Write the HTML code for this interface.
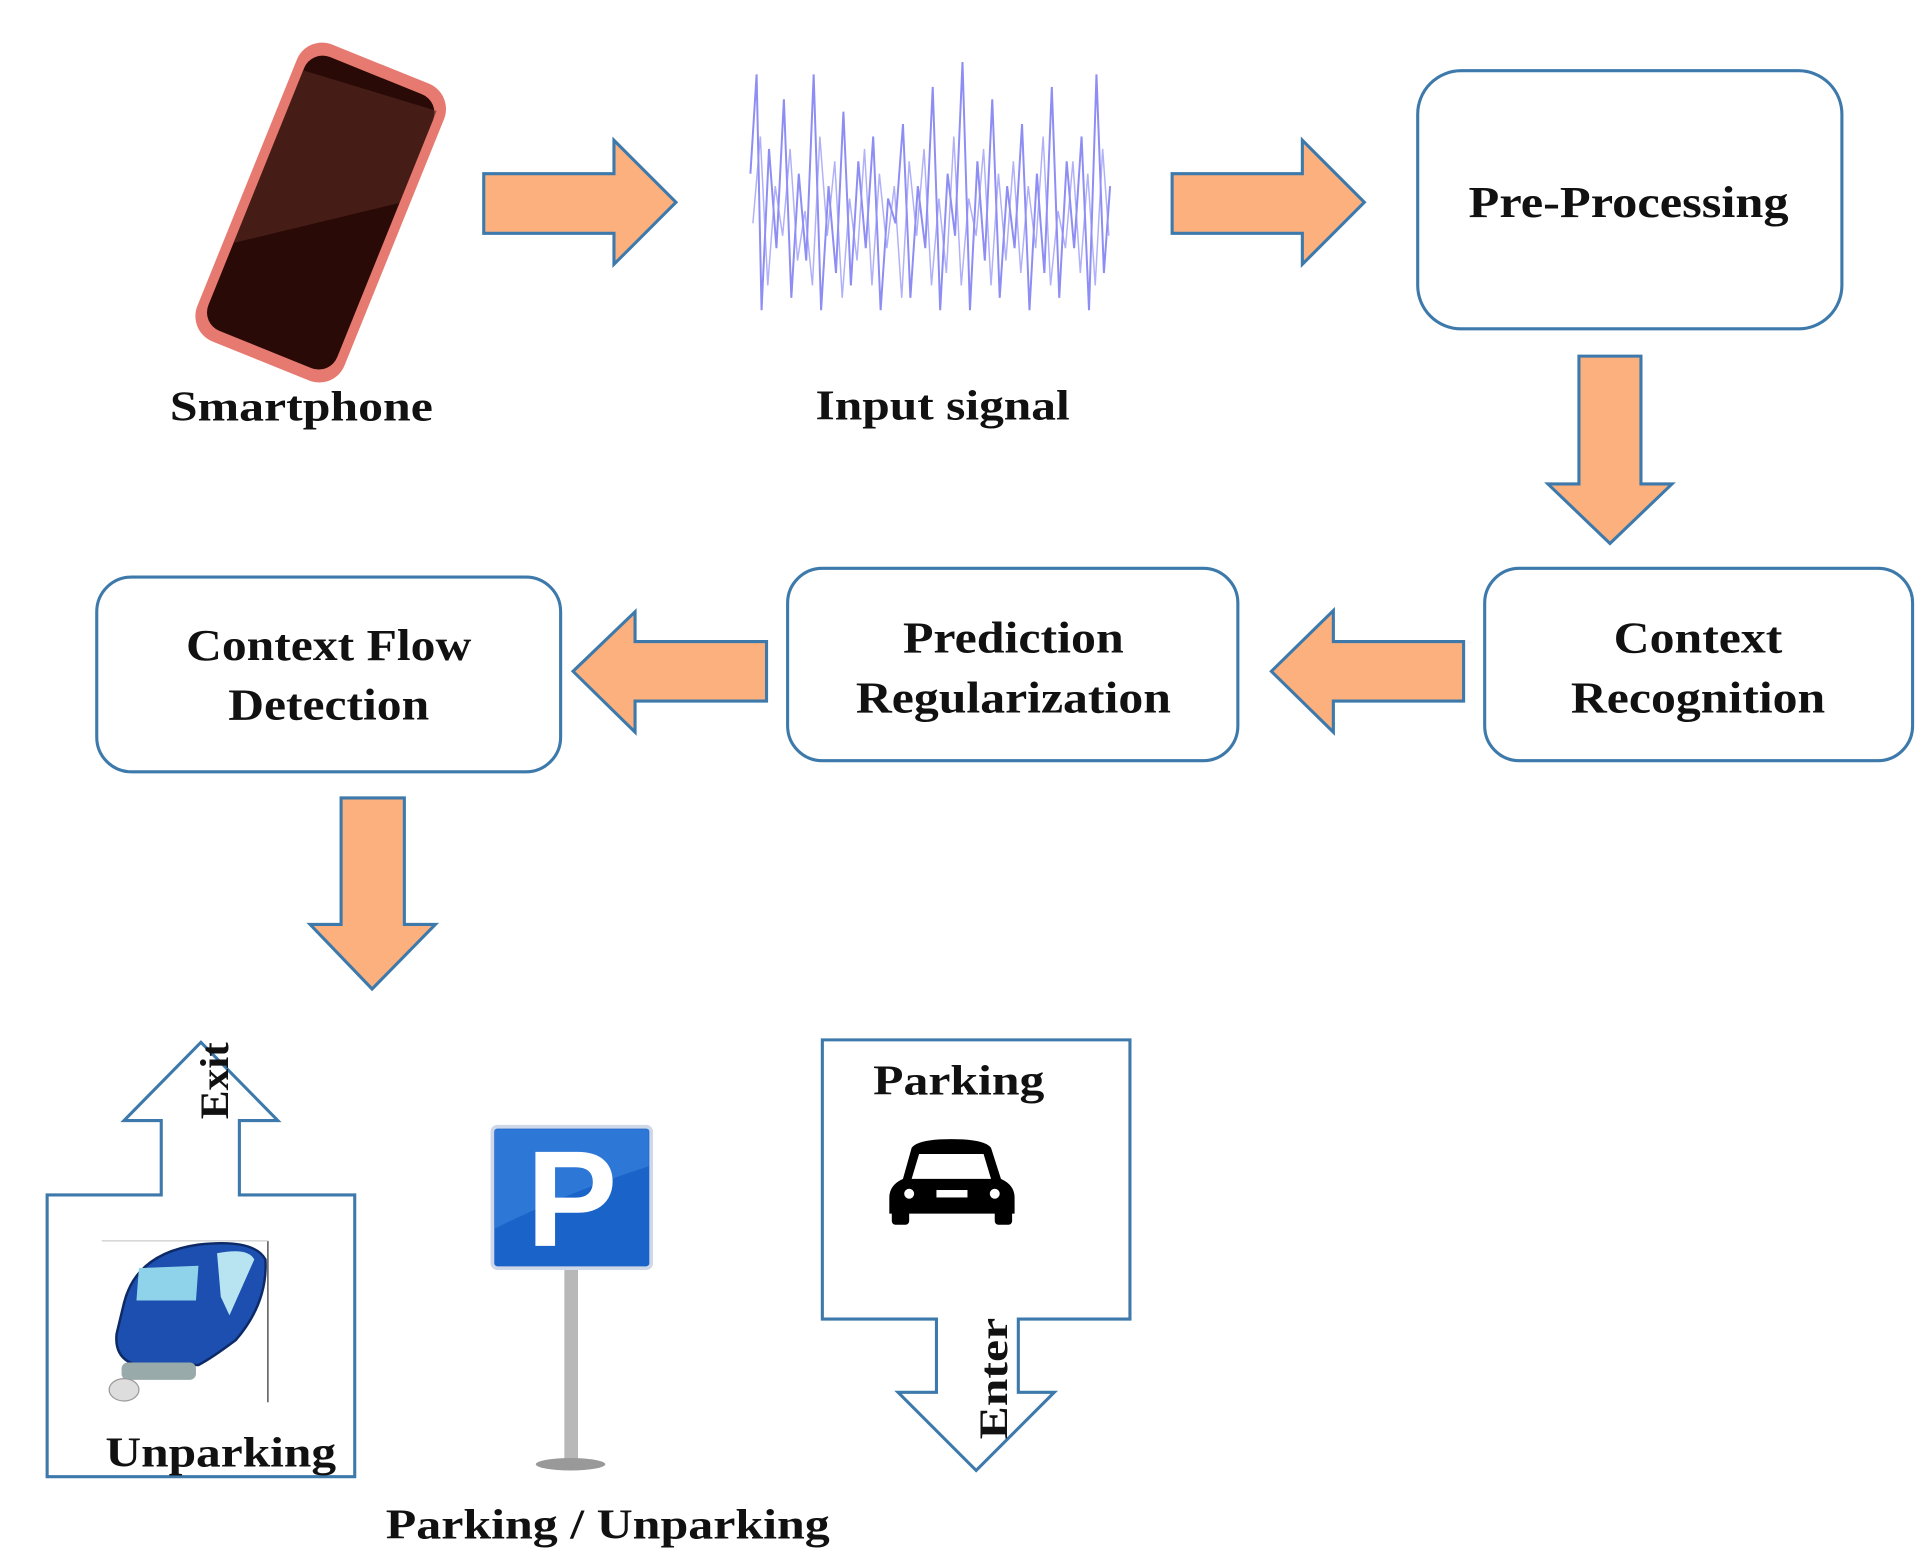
<!DOCTYPE html>
<html><head><meta charset="utf-8"><style>
html,body{margin:0;padding:0;background:#fff;}
svg{display:block;}
text{font-family:"Liberation Serif",serif;font-weight:bold;fill:#111;}
</style></head><body>
<svg width="1925" height="1566" viewBox="0 0 1552 1262" preserveAspectRatio="none" xmlns="http://www.w3.org/2000/svg">
<!-- phone -->
<g transform="rotate(22 258 170)">
<rect x="195" y="42" width="128" height="258" rx="22" fill="#e77a70"/>
<rect x="203" y="52" width="112" height="238" rx="16" fill="#2a0a06"/>
<path d="M203 70 L315 60 L315 140 L203 220Z" fill="#5a2a22" opacity="0.6"/>
</g>
<text x="243" y="339" font-size="34" text-anchor="middle" textLength="212" lengthAdjust="spacingAndGlyphs">Smartphone</text>
<!-- signal -->
<polyline fill="none" stroke="#7070f0" stroke-width="1.6" opacity="0.8" points="605,140 610,60 614,250 620,120 626,200 632,80 638,240 644,140 650,210 656,60 662,250 668,150 674,220 680,90 686,230 692,130 698,200 704,110 710,250 716,160 722,180 728,100 734,240 740,150 746,200 752,70 758,250 764,140 770,190 776,50 782,250 788,130 794,210 800,80 806,240 812,150 818,200 824,100 830,250 836,140 842,220 848,70 854,240 860,130 866,200 872,110 878,250 884,60 890,220 895,150"/>
<polyline fill="none" stroke="#9090f5" stroke-width="1.2" opacity="0.7" points="607,180 613,110 619,230 625,150 631,190 637,120 643,210 649,170 655,230 661,110 667,190 673,130 679,240 685,160 691,210 697,120 703,230 709,140 715,200 721,150 727,240 733,130 739,190 745,120 751,230 757,160 763,220 769,110 775,230 781,160 787,190 793,120 799,230 805,140 811,210 817,130 823,220 829,150 835,200 841,110 847,230 853,170 859,200 865,130 871,220 877,140 883,230 889,120 894,190"/>
<text x="760" y="338" font-size="34" text-anchor="middle" textLength="205" lengthAdjust="spacingAndGlyphs">Input signal</text>
<g fill="#fbb07e" stroke="#3d7aab" stroke-width="2.5" stroke-linejoin="miter">
<!-- right arrows -->
<polygon points="390,140 495,140 495,113 545,163 495,213 495,188 390,188"/>
<polygon points="945,140 1050,140 1050,113 1100,163 1050,213 1050,188 945,188"/>
<!-- down arrows -->
<polygon points="1273,287 1323,287 1323,390 1348,390 1298,438 1248,390 1273,390"/>
<polygon points="275,643 326,643 326,745 351,745 300,797 250,745 275,745"/>
<!-- left arrows -->
<polygon points="1180,517 1075,517 1075,492 1025,541 1075,590 1075,565 1180,565"/>
<polygon points="618,517 512,517 512,493 462,541 512,590 512,565 618,565"/>
</g>
<g fill="#fff" stroke="#3d7aab" stroke-width="2.5">
<rect x="1143" y="57" width="342" height="208" rx="35"/>
<rect x="1197" y="458" width="345" height="155" rx="28"/>
<rect x="635" y="458" width="363" height="155" rx="28"/>
<rect x="78" y="465" width="374" height="157" rx="28"/>
</g>
<text x="1313" y="175" font-size="36" text-anchor="middle" textLength="258" lengthAdjust="spacingAndGlyphs">Pre-Processing</text>
<text x="1369" y="526" font-size="36" text-anchor="middle" textLength="136" lengthAdjust="spacingAndGlyphs">Context</text>
<text x="1369" y="574" font-size="36" text-anchor="middle" textLength="205" lengthAdjust="spacingAndGlyphs">Recognition</text>
<text x="817" y="526" font-size="36" text-anchor="middle" textLength="178" lengthAdjust="spacingAndGlyphs">Prediction</text>
<text x="817" y="574" font-size="36" text-anchor="middle" textLength="254" lengthAdjust="spacingAndGlyphs">Regularization</text>
<text x="265" y="532" font-size="36" text-anchor="middle" textLength="230" lengthAdjust="spacingAndGlyphs">Context Flow</text>
<text x="265" y="580" font-size="36" text-anchor="middle" textLength="162" lengthAdjust="spacingAndGlyphs">Detection</text>
<!-- exit shape -->
<polygon points="38,963 130,963 130,903 100,903 162,840 224,903 193,903 193,963 286,963 286,1190 38,1190" fill="#fff" stroke="#3d7aab" stroke-width="2.5"/>
<text transform="translate(184,902) rotate(-90)" font-size="32" textLength="62" lengthAdjust="spacingAndGlyphs">Exit</text>
<!-- blue car -->
<line x1="216" y1="1000" x2="216" y2="1130" stroke="#333" stroke-width="1"/>
<line x1="82" y1="1000" x2="216" y2="1000" stroke="#ccc" stroke-width="1"/>
<path d="M100 1050 Q110 1010 160 1003 Q205 998 214 1015 Q216 1050 190 1080 Q170 1095 160 1100 L110 1100 Q92 1095 94 1075Z" fill="#1c4fb0" stroke="#0d2a66" stroke-width="2"/>
<path d="M112 1022 L160 1020 L158 1048 L110 1048Z" fill="#8fd3ea"/>
<path d="M175 1010 Q200 1005 205 1015 L185 1060 L178 1045Z" fill="#b8e4f2"/>
<rect x="98" y="1098" width="60" height="14" rx="5" fill="#9aa"/>
<ellipse cx="100" cy="1120" rx="12" ry="9" fill="#ddd" stroke="#999"/>
<text x="178" y="1182" font-size="34" text-anchor="middle" textLength="186" lengthAdjust="spacingAndGlyphs">Unparking</text>
<!-- P sign -->
<rect x="455" y="1020" width="11" height="160" fill="#b8b8b8"/>
<ellipse cx="460" cy="1180" rx="28" ry="5" fill="#999"/>
<rect x="397" y="908" width="128" height="114" rx="4" fill="#1a63c8" stroke="#cfd8e8" stroke-width="3"/>
<path d="M399 910 L523 910 L523 940 Q460 960 399 990Z" fill="#3b86e0" opacity="0.6"/>
<text x="461" y="1004" font-size="110" text-anchor="middle" style="font-family:'Liberation Sans',sans-serif;fill:#fff">P</text>
<text x="490" y="1240" font-size="34" text-anchor="middle" textLength="358" lengthAdjust="spacingAndGlyphs">Parking / Unparking</text>
<!-- parking shape -->
<polygon points="663,838 911,838 911,1063 821,1063 821,1122 850,1122 787,1185 724,1122 755,1122 755,1063 663,1063" fill="#fff" stroke="#3d7aab" stroke-width="2.5"/>
<text x="773" y="882" font-size="34" text-anchor="middle" textLength="138" lengthAdjust="spacingAndGlyphs">Parking</text>
<!-- black car icon -->
<path d="M735 925 Q740 918 767 918 Q794 918 799 925 L807 950 Q818 955 818 965 L818 978 L717 978 L717 965 Q717 955 728 950Z" fill="#000"/>
<path d="M741 930 L793 930 L799 950 L735 950Z" fill="#fff"/>
<rect x="719" y="975" width="14" height="12" rx="3" fill="#000"/>
<rect x="802" y="975" width="14" height="12" rx="3" fill="#000"/>
<circle cx="733" cy="962" r="4" fill="#fff"/><circle cx="802" cy="962" r="4" fill="#fff"/>
<rect x="755" y="959" width="25" height="6" fill="#fff"/>
<text transform="translate(812,1160) rotate(-90)" font-size="32" textLength="98" lengthAdjust="spacingAndGlyphs">Enter</text>
</svg>
</body></html>
